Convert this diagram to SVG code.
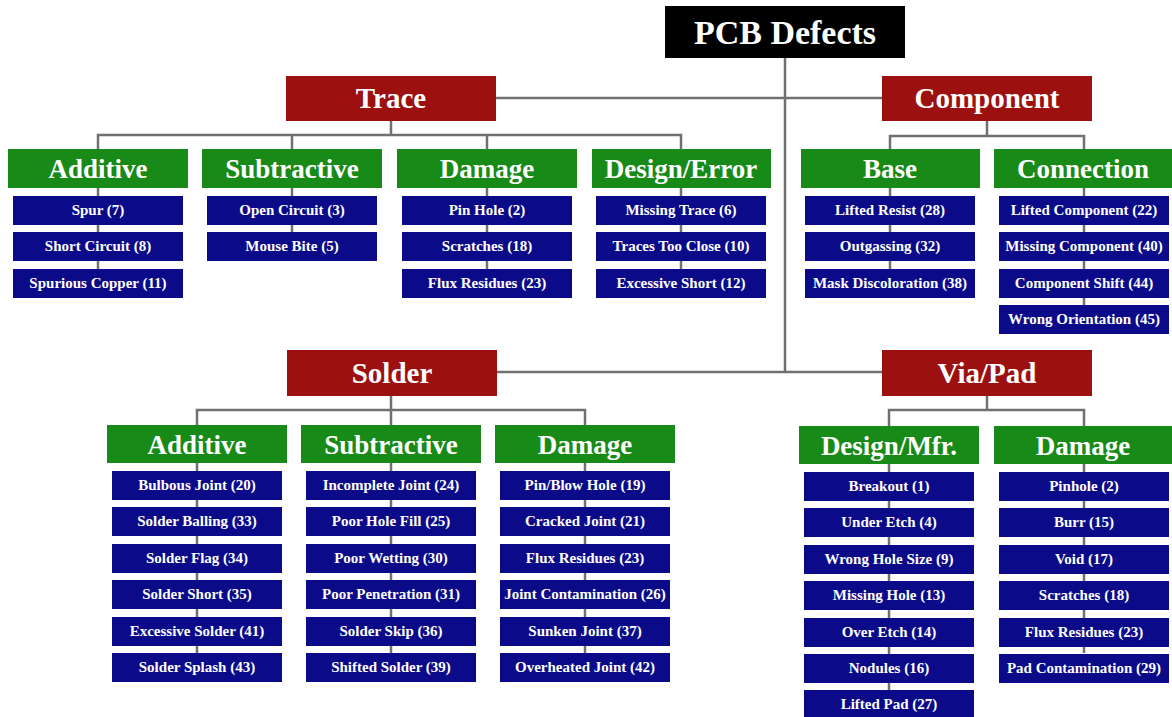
<svg xmlns="http://www.w3.org/2000/svg" width="1172" height="717" viewBox="0 0 1172 717">
<style>
text{font-family:"Liberation Serif","Times New Roman",serif;font-weight:bold;fill:#fff;text-anchor:middle}
.root rect{fill:#000}
.root text{font-size:34px}
.cat rect{fill:#9c1010}
.cat text{font-size:29px}
.sub rect{fill:#178a17}
.sub text{font-size:27px}
.leaf rect{fill:#0b0b8a}
.leaf text{font-size:15px}
#connectors line,#connectors path{stroke:#707070;stroke-width:2.5;fill:none}
</style>
<rect width="1172" height="717" fill="#fff"/>
<g id="connectors">
<path d="M785 58V372M496 98H882M497 372H882"/>
<path d="M391 121V135M98 149V135H681V149M292 135V149M487 135V149"/>
<path d="M987 121V136M890 149V136H1084V149"/>
<path d="M391 396V410M197 425V410H585V425M391 410V425"/>
<path d="M987 396V410M889 426V410H1084V426"/>
<path d="M98 188V269M292 188V232M487 188V269M681 188V269M890 188V269M1084 188V305"/>
<path d="M197 463V653M391 463V653M585 463V653M889 464V690M1084 464V653"/>
</g>
<g id="root" class="root"><rect x="665" y="6" width="240" height="52"/><text x="785" y="44">PCB Defects</text></g>
<g id="trace" class="cat"><rect x="286" y="76" width="210" height="45"/><text x="391" y="108">Trace</text></g>
<g id="component" class="cat"><rect x="882" y="76" width="210" height="45"/><text x="987" y="108">Component</text></g>
<g id="solder" class="cat"><rect x="287" y="350" width="210" height="46"/><text x="392" y="383">Solder</text></g>
<g id="viapad" class="cat"><rect x="882" y="350" width="210" height="46"/><text x="987" y="383">Via/Pad</text></g>
<g id="trace-additive" class="sub"><rect x="8" y="149" width="180" height="39"/><text x="98" y="178">Additive</text></g>
<g id="trace-subtractive" class="sub"><rect x="202" y="149" width="180" height="39"/><text x="292" y="178">Subtractive</text></g>
<g id="trace-damage" class="sub"><rect x="397" y="149" width="180" height="39"/><text x="487" y="178">Damage</text></g>
<g id="trace-design" class="sub"><rect x="592" y="149" width="179" height="39"/><text x="681" y="178">Design/Error</text></g>
<g id="comp-base" class="sub"><rect x="801" y="149" width="179" height="39"/><text x="890" y="178">Base</text></g>
<g id="comp-connection" class="sub"><rect x="994" y="149" width="178" height="39"/><text x="1083" y="178">Connection</text></g>
<g id="solder-additive" class="sub"><rect x="107" y="425" width="180" height="38"/><text x="197" y="454">Additive</text></g>
<g id="solder-subtractive" class="sub"><rect x="301" y="425" width="180" height="38"/><text x="391" y="454">Subtractive</text></g>
<g id="solder-damage" class="sub"><rect x="495" y="425" width="180" height="38"/><text x="585" y="454">Damage</text></g>
<g id="via-design" class="sub"><rect x="799" y="426" width="180" height="38"/><text x="889" y="455">Design/Mfr.</text></g>
<g id="via-damage" class="sub"><rect x="994" y="426" width="178" height="38"/><text x="1083" y="455">Damage</text></g>
<g id="t1" class="leaf"><rect x="13" y="196" width="170" height="29"/><text x="98" y="215">Spur (7)</text></g>
<g id="t2" class="leaf"><rect x="13" y="232" width="170" height="29"/><text x="98" y="251">Short Circuit (8)</text></g>
<g id="t3" class="leaf"><rect x="13" y="269" width="170" height="29"/><text x="98" y="288">Spurious Copper (11)</text></g>
<g id="t4" class="leaf"><rect x="207" y="196" width="170" height="29"/><text x="292" y="215">Open Circuit (3)</text></g>
<g id="t5" class="leaf"><rect x="207" y="232" width="170" height="29"/><text x="292" y="251">Mouse Bite (5)</text></g>
<g id="t6" class="leaf"><rect x="402" y="196" width="170" height="29"/><text x="487" y="215">Pin Hole (2)</text></g>
<g id="t7" class="leaf"><rect x="402" y="232" width="170" height="29"/><text x="487" y="251">Scratches (18)</text></g>
<g id="t8" class="leaf"><rect x="402" y="269" width="170" height="29"/><text x="487" y="288">Flux Residues (23)</text></g>
<g id="t9" class="leaf"><rect x="596" y="196" width="170" height="29"/><text x="681" y="215">Missing Trace (6)</text></g>
<g id="t10" class="leaf"><rect x="596" y="232" width="170" height="29"/><text x="681" y="251">Traces Too Close (10)</text></g>
<g id="t11" class="leaf"><rect x="596" y="269" width="170" height="29"/><text x="681" y="288">Excessive Short (12)</text></g>
<g id="c1" class="leaf"><rect x="805" y="196" width="170" height="29"/><text x="890" y="215">Lifted Resist (28)</text></g>
<g id="c2" class="leaf"><rect x="805" y="232" width="170" height="29"/><text x="890" y="251">Outgassing (32)</text></g>
<g id="c3" class="leaf"><rect x="805" y="269" width="170" height="29"/><text x="890" y="288">Mask Discoloration (38)</text></g>
<g id="c4" class="leaf"><rect x="999" y="196" width="170" height="29"/><text x="1084" y="215">Lifted Component (22)</text></g>
<g id="c5" class="leaf"><rect x="999" y="232" width="170" height="29"/><text x="1084" y="251">Missing Component (40)</text></g>
<g id="c6" class="leaf"><rect x="999" y="269" width="170" height="29"/><text x="1084" y="288">Component Shift (44)</text></g>
<g id="c7" class="leaf"><rect x="999" y="305" width="170" height="29"/><text x="1084" y="324">Wrong Orientation (45)</text></g>
<g id="s1" class="leaf"><rect x="112" y="471" width="170" height="29"/><text x="197" y="490">Bulbous Joint (20)</text></g>
<g id="s2" class="leaf"><rect x="112" y="507" width="170" height="29"/><text x="197" y="526">Solder Balling (33)</text></g>
<g id="s3" class="leaf"><rect x="112" y="544" width="170" height="29"/><text x="197" y="563">Solder Flag (34)</text></g>
<g id="s4" class="leaf"><rect x="112" y="580" width="170" height="29"/><text x="197" y="599">Solder Short (35)</text></g>
<g id="s5" class="leaf"><rect x="112" y="617" width="170" height="29"/><text x="197" y="636">Excessive Solder (41)</text></g>
<g id="s6" class="leaf"><rect x="112" y="653" width="170" height="29"/><text x="197" y="672">Solder Splash (43)</text></g>
<g id="s7" class="leaf"><rect x="306" y="471" width="170" height="29"/><text x="391" y="490">Incomplete Joint (24)</text></g>
<g id="s8" class="leaf"><rect x="306" y="507" width="170" height="29"/><text x="391" y="526">Poor Hole Fill (25)</text></g>
<g id="s9" class="leaf"><rect x="306" y="544" width="170" height="29"/><text x="391" y="563">Poor Wetting (30)</text></g>
<g id="s10" class="leaf"><rect x="306" y="580" width="170" height="29"/><text x="391" y="599">Poor Penetration (31)</text></g>
<g id="s11" class="leaf"><rect x="306" y="617" width="170" height="29"/><text x="391" y="636">Solder Skip (36)</text></g>
<g id="s12" class="leaf"><rect x="306" y="653" width="170" height="29"/><text x="391" y="672">Shifted Solder (39)</text></g>
<g id="s13" class="leaf"><rect x="500" y="471" width="170" height="29"/><text x="585" y="490">Pin/Blow Hole (19)</text></g>
<g id="s14" class="leaf"><rect x="500" y="507" width="170" height="29"/><text x="585" y="526">Cracked Joint (21)</text></g>
<g id="s15" class="leaf"><rect x="500" y="544" width="170" height="29"/><text x="585" y="563">Flux Residues (23)</text></g>
<g id="s16" class="leaf"><rect x="500" y="580" width="170" height="29"/><text x="585" y="599">Joint Contamination (26)</text></g>
<g id="s17" class="leaf"><rect x="500" y="617" width="170" height="29"/><text x="585" y="636">Sunken Joint (37)</text></g>
<g id="s18" class="leaf"><rect x="500" y="653" width="170" height="29"/><text x="585" y="672">Overheated Joint (42)</text></g>
<g id="v1" class="leaf"><rect x="804" y="472" width="170" height="29"/><text x="889" y="491">Breakout (1)</text></g>
<g id="v2" class="leaf"><rect x="804" y="508" width="170" height="29"/><text x="889" y="527">Under Etch (4)</text></g>
<g id="v3" class="leaf"><rect x="804" y="545" width="170" height="29"/><text x="889" y="564">Wrong Hole Size (9)</text></g>
<g id="v4" class="leaf"><rect x="804" y="581" width="170" height="29"/><text x="889" y="600">Missing Hole (13)</text></g>
<g id="v5" class="leaf"><rect x="804" y="618" width="170" height="29"/><text x="889" y="637">Over Etch (14)</text></g>
<g id="v6" class="leaf"><rect x="804" y="654" width="170" height="29"/><text x="889" y="673">Nodules (16)</text></g>
<g id="v7" class="leaf"><rect x="804" y="690" width="170" height="29"/><text x="889" y="709">Lifted Pad (27)</text></g>
<g id="v8" class="leaf"><rect x="999" y="472" width="170" height="29"/><text x="1084" y="491">Pinhole (2)</text></g>
<g id="v9" class="leaf"><rect x="999" y="508" width="170" height="29"/><text x="1084" y="527">Burr (15)</text></g>
<g id="v10" class="leaf"><rect x="999" y="545" width="170" height="29"/><text x="1084" y="564">Void (17)</text></g>
<g id="v11" class="leaf"><rect x="999" y="581" width="170" height="29"/><text x="1084" y="600">Scratches (18)</text></g>
<g id="v12" class="leaf"><rect x="999" y="618" width="170" height="29"/><text x="1084" y="637">Flux Residues (23)</text></g>
<g id="v13" class="leaf"><rect x="999" y="654" width="170" height="29"/><text x="1084" y="673">Pad Contamination (29)</text></g>
</svg>
